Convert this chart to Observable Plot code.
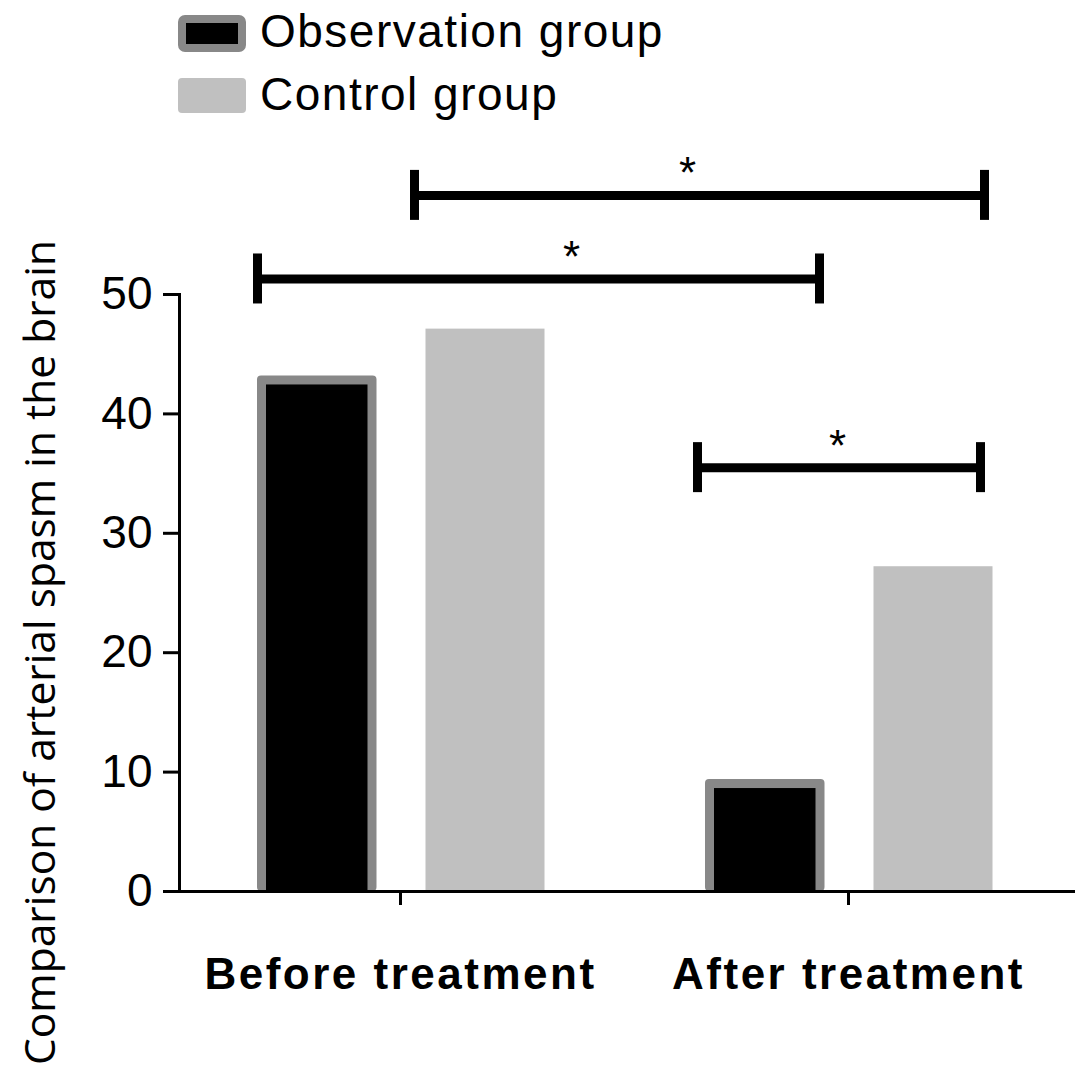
<!DOCTYPE html>
<html>
<head>
<meta charset="utf-8">
<script src="https://cdn.jsdelivr.net/npm/d3@7"></script>
<script src="https://cdn.jsdelivr.net/npm/@observablehq/plot@0.6"></script>
<style>
  body { margin: 0; background: #fff; }
  #wrap { position: relative; width: 1087px; height: 1080px; overflow: hidden; }
  #wrap svg.chart { position: absolute; left: 0; top: 0; }
  #wrap [aria-label="x-axis tick label"] { letter-spacing: 2.5px; }
</style>
</head>
<body>
<div id="wrap"></div>
<script>
// ---- data ----
const groups = ["Before treatment", "After treatment"];
const series = ["Observation group", "Control group"];
const observation = [42.8, 9.0];
const control = [47.1, 27.2];
const yTicks = [0, 10, 20, 30, 40, 50];
const yTitle = "Comparison of arterial spasm in the brain";
const brackets = [
  {from: "Before treatment", to: "After treatment", value: 58.3, label: "*"},
  {from: "Before treatment", to: "After treatment", value: 51.3, label: "*"},
  {from: "After treatment", to: "After treatment", value: 35.5, label: "*"}
];

// ---- style (pixel offsets from band centres) ----
const bracketStyle = [
  {left: 14, right: 136, star: 287},
  {left: -143, right: -29, star: 171},
  {left: -151, right: 132, star: -11}
];

const W = 1087, H = 1080, mL = 179, mR = 12, mT = 294, mB = 189;
const pI = 0.0134, pO = 0.0067;
const step = (W - mL - mR) / (groups.length - pI + 2 * pO);
const bw = step * (1 - pI);

const rows = groups.flatMap((g, i) => [
  {group: g, series: series[0], value: observation[i]},
  {group: g, series: series[1], value: control[i]}
]);
const obsRows = rows.filter(d => d.series === series[0]);
const ctrlRows = rows.filter(d => d.series === series[1]);

const bracketMarks = brackets.flatMap((b, i) => {
  const st = bracketStyle[i];
  return [
    Plot.ruleY([b], {x1: d => d.from, x2: d => d.to, y: d => d.value,
      insetLeft: bw / 2 + st.left, insetRight: bw / 2 - st.right, stroke: "#000", strokeWidth: 9}),
    Plot.ruleX([b], {x: d => d.from, y1: d => d.value, y2: d => d.value, dx: st.left,
      insetTop: -25, insetBottom: -25, stroke: "#000", strokeWidth: 9}),
    Plot.ruleX([b], {x: d => d.to, y1: d => d.value, y2: d => d.value, dx: st.right,
      insetTop: -25, insetBottom: -25, stroke: "#000", strokeWidth: 9}),
    Plot.text([b], {x: d => d.from, y: d => d.value, text: d => d.label, dx: st.star, dy: -7,
      lineAnchor: "bottom", fontSize: 44, fill: "#000"})
  ];
});

const chart = Plot.plot({
  width: W, height: H,
  marginLeft: mL, marginRight: mR, marginTop: mT, marginBottom: mB,
  className: "chart",
  style: {fontFamily: "'Liberation Sans', Arial, sans-serif", background: "#fff", overflow: "visible", color: "#000"},
  x: {domain: groups, paddingInner: pI, paddingOuter: pO, align: 0, axis: null},
  y: {domain: [0, 50], axis: null},
  marks: [
    Plot.barY(ctrlRows, {x: "group", y: "value",
      fill: "#c0c0c0", insetLeft: 246.5, insetRight: 76.5}),
    // observation bars: grey border then black core
    Plot.barY(obsRows, {x: "group", y: "value", fill: "#888888", rx: 4,
      insetLeft: 78, insetRight: 244.5, insetTop: -4.5}),
    Plot.barY(obsRows, {x: "group", y: "value", fill: "#000",
      insetLeft: 87, insetRight: 253.5, insetTop: 4.5}),
    Plot.ruleY([0], {stroke: "#000", strokeWidth: 3}),
    Plot.frame({anchor: "left", stroke: "#000", strokeWidth: 3}),
    Plot.axisX({tickSize: 14, tickPadding: 52, stroke: "#000", strokeWidth: 3,
      fontSize: 44, fontWeight: "bold", label: null}),
    Plot.axisY(yTicks, {tickSize: 16, tickPadding: 11, stroke: "#000", strokeWidth: 3,
      fontSize: 46, label: null, tickFormat: d => String(d)}),
    Plot.text([yTitle], {frameAnchor: "left", dx: 54 - mL, dy: 652 - (mT + H - mB) / 2,
      rotate: -90, lineAnchor: "bottom", textAnchor: "middle",
      fontSize: 42.5, fontFamily: "'Open Sans', sans-serif", fill: "#000"}),
    ...bracketMarks
  ]
});
document.getElementById("wrap").appendChild(chart);

// ---- legend ----
const leg = d3.select("#wrap").append("svg")
  .attr("width", 760).attr("height", 130)
  .style("position", "absolute").style("left", "0px").style("top", "0px");
leg.append("rect").attr("x", 182).attr("y", 19).attr("width", 60).attr("height", 29).attr("rx", 3)
  .attr("fill", "#000").attr("stroke", "#888888").attr("stroke-width", 8);
leg.append("rect").attr("x", 178).attr("y", 78).attr("width", 68).attr("height", 35).attr("rx", 4)
  .attr("fill", "#c0c0c0");
leg.selectAll("text.lab").data(series).join("text")
  .attr("class", "lab")
  .attr("x", 260).attr("y", (d, i) => i === 0 ? 47 : 110)
  .attr("font-family", "'Liberation Sans', Arial, sans-serif")
  .attr("font-size", 46).attr("letter-spacing", "1.5px").attr("fill", "#000")
  .text(d => d);
</script>
</body>
</html>
